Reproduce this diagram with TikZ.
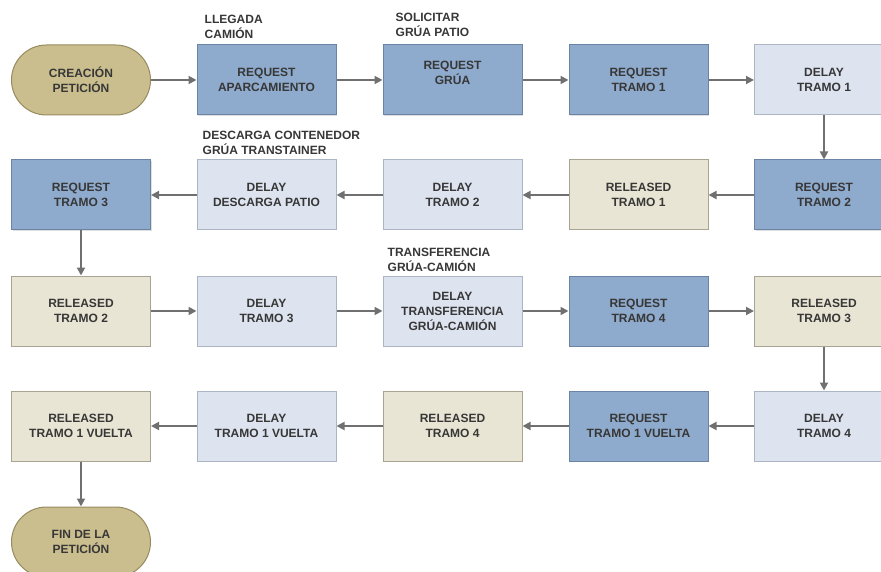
\documentclass[tikz,border=0pt]{standalone}
\usepackage{fontspec}
\setmainfont{Liberation Sans}
\usepackage{tikz}
\usetikzlibrary{arrows.meta,positioning,shadows}
\definecolor{rqfill}{RGB}{142,170,204}
\definecolor{rqdraw}{RGB}{108,132,164}
\definecolor{dlfill}{RGB}{221,228,240}
\definecolor{dldraw}{RGB}{172,181,196}
\definecolor{rlfill}{RGB}{233,229,212}
\definecolor{rldraw}{RGB}{168,164,145}
\definecolor{pillfill}{RGB}{203,190,142}
\definecolor{pilldraw}{RGB}{150,138,95}
\definecolor{txtgray}{RGB}{55,55,55}
\definecolor{arrgray}{RGB}{112,112,112}
\tikzstyle{arrow} = [line width=1.8pt,->,>={Triangle[length=8pt,width=8pt]},color=arrgray]
\tikzstyle{stepbase} = [rectangle, minimum width=139pt, minimum height=70pt, align=center, text=txtgray, line width=1pt, font=\bfseries\fontsize{12}{15}\selectfont]
\tikzstyle{reqbox} = [stepbase, fill=rqfill, draw=rqdraw, drop shadow={shadow xshift=1pt, shadow yshift=-1pt, opacity=0.25}]
\tikzstyle{delaybox} = [stepbase, fill=dlfill, draw=dldraw]
\tikzstyle{relbox} = [stepbase, fill=rlfill, draw=rldraw]
\tikzstyle{pill} = [stepbase, rounded corners=35pt, fill=pillfill, draw=pilldraw]
\tikzstyle{note} = [align=left, inner sep=0pt, text=txtgray, font=\bfseries\fontsize{12}{15}\selectfont]

\begin{document}
\begin{tikzpicture}[x=1pt,y=-1pt]
\useasboundingbox (0,0) rectangle (881,572);
\clip (0,0) rectangle (881,572);

% Row 1
\node[pill] (crea) at (81,80) {CREACIÓN\\PETICIÓN};
\node[reqbox] (reqapar) at (266.5,80) {REQUEST\\APARCAMIENTO};
\node[reqbox] (reqgrua) at (452.5,80) {REQUEST\\GRÚA\\\mbox{}};
\node[reqbox] (reqt1) at (638.5,80) {REQUEST\\TRAMO 1};
\node[delaybox] (delt1) at (824,80) {DELAY\\TRAMO 1};

% Row 2
\node[reqbox] (reqt2) at (824,195) {REQUEST\\TRAMO 2};
\node[relbox] (relt1) at (638.5,195) {RELEASED\\TRAMO 1};
\node[delaybox] (delt2) at (452.5,195) {DELAY\\TRAMO 2};
\node[delaybox] (deldesc) at (266.5,195) {DELAY\\DESCARGA PATIO};
\node[reqbox] (reqt3) at (81,195) {REQUEST\\TRAMO 3};

% Row 3
\node[relbox] (relt2) at (81,311) {RELEASED\\TRAMO 2};
\node[delaybox] (delt3) at (266.5,311) {DELAY\\TRAMO 3};
\node[delaybox] (deltrans) at (452.5,311) {DELAY\\TRANSFERENCIA\\GRÚA-CAMIÓN};
\node[reqbox] (reqt4) at (638.5,311) {REQUEST\\TRAMO 4};
\node[relbox] (relt3) at (824,311) {RELEASED\\TRAMO 3};

% Row 4
\node[delaybox] (delt4) at (824,426) {DELAY\\TRAMO 4};
\node[reqbox] (reqt1v) at (638.5,426) {REQUEST\\TRAMO 1 VUELTA};
\node[relbox] (relt4) at (452.5,426) {RELEASED\\TRAMO 4};
\node[delaybox] (delt1v) at (266.5,426) {DELAY\\TRAMO 1 VUELTA};
\node[relbox] (relt1v) at (81,426) {RELEASED\\TRAMO 1 VUELTA};

% End
\node[pill] (fin) at (81,542) {FIN DE LA\\PETICIÓN};

% Notes above boxes
\node[note, above right=6pt and 8pt of reqapar.north west] (notellegada) {LLEGADA\\CAMIÓN};
\node[note, above right=8pt and 13pt of reqgrua.north west] (notegrua) {SOLICITAR\\GRÚA PATIO};
\node[note, above right=5pt and 6pt of deldesc.north west] (notedesc) {DESCARGA CONTENEDOR\\GRÚA TRANSTAINER};
\node[note, above right=4pt and 5pt of deltrans.north west] (notetrans) {TRANSFERENCIA\\GRÚA-CAMIÓN};

% Arrows
\draw[arrow] (crea) -- (reqapar);
\draw[arrow] (reqapar) -- (reqgrua);
\draw[arrow] (reqgrua) -- (reqt1);
\draw[arrow] (reqt1) -- (delt1);
\draw[arrow] (delt1) -- (reqt2);
\draw[arrow] (reqt2) -- (relt1);
\draw[arrow] (relt1) -- (delt2);
\draw[arrow] (delt2) -- (deldesc);
\draw[arrow] (deldesc) -- (reqt3);
\draw[arrow] (reqt3) -- (relt2);
\draw[arrow] (relt2) -- (delt3);
\draw[arrow] (delt3) -- (deltrans);
\draw[arrow] (deltrans) -- (reqt4);
\draw[arrow] (reqt4) -- (relt3);
\draw[arrow] (relt3) -- (delt4);
\draw[arrow] (delt4) -- (reqt1v);
\draw[arrow] (reqt1v) -- (relt4);
\draw[arrow] (relt4) -- (delt1v);
\draw[arrow] (delt1v) -- (relt1v);
\draw[arrow] (relt1v) -- (fin);
\end{tikzpicture}
\end{document}
